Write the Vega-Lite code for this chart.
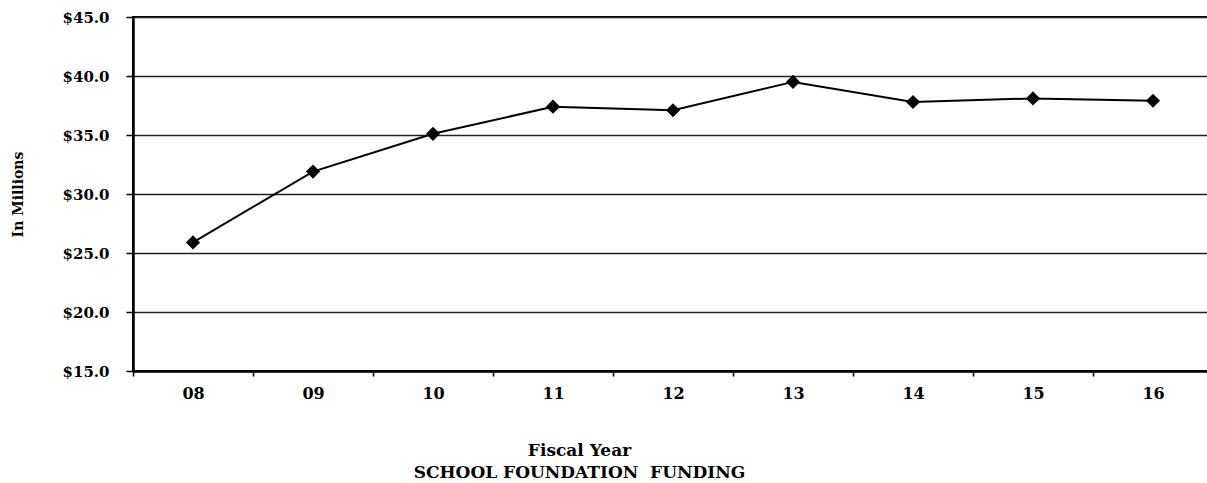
{
  "$schema": "https://vega.github.io/schema/vega-lite/v6.json",
  "autosize": {"type": "none"},
  "padding": {"left": 133, "top": 17, "right": 0, "bottom": 112},
  "width": 1080,
  "height": 354,
  "background": "white",
  "config": {
    "font": "DejaVu Serif",
    "view": {"stroke": "black", "strokeWidth": 2},
    "axis": {
      "labelFont": "DejaVu Serif",
      "labelFontWeight": "bold",
      "labelColor": "black",
      "titleFont": "DejaVu Serif",
      "titleFontWeight": "bold",
      "titleColor": "black",
      "domainColor": "black",
      "tickColor": "black"
    }
  },
  "data": {
    "values": [
      {"year": "08", "funding": 25.9},
      {"year": "09", "funding": 31.9},
      {"year": "10", "funding": 35.1},
      {"year": "11", "funding": 37.4},
      {"year": "12", "funding": 37.1},
      {"year": "13", "funding": 39.5},
      {"year": "14", "funding": 37.8},
      {"year": "15", "funding": 38.1},
      {"year": "16", "funding": 37.9}
    ]
  },
  "encoding": {
    "x": {
      "field": "year",
      "type": "ordinal",
      "sort": null,
      "scale": {"paddingInner": 0, "paddingOuter": 0},
      "axis": {
        "labelAngle": 0,
        "labelFontSize": 16,
        "labelPadding": 9,
        "tickBand": "extent",
        "tickSize": 5,
        "tickWidth": 1.5,
        "domainWidth": 2.5,
        "title": ["Fiscal Year", "SCHOOL FOUNDATION\u00a0 FUNDING"],
        "titleFontSize": 17,
        "titleLineHeight": 22,
        "titleAnchor": "middle",
        "titleAlign": "center",
        "titleBaseline": "alphabetic",
        "titleX": 446,
        "titleY": 84
      }
    },
    "y": {
      "field": "funding",
      "type": "quantitative",
      "scale": {"domain": [15, 45], "nice": false, "zero": false},
      "axis": {
        "values": [15, 20, 25, 30, 35, 40, 45],
        "labelExpr": "'$' + format(datum.value, '.1f')",
        "labelFontSize": 15,
        "labelPadding": 17,
        "tickSize": 7,
        "tickWidth": 1.5,
        "domainWidth": 2.5,
        "grid": true,
        "gridColor": "#222222",
        "gridWidth": 1.4,
        "title": "In Millions",
        "titleFontSize": 14,
        "titleX": -108,
        "titleY": 177,
        "titleAnchor": "middle"
      }
    }
  },
  "layer": [
    {
      "mark": {"type": "line", "color": "black", "strokeWidth": 2}
    },
    {
      "mark": {"type": "point", "shape": "diamond", "filled": true, "color": "black", "opacity": 1, "size": 200}
    }
  ]
}
